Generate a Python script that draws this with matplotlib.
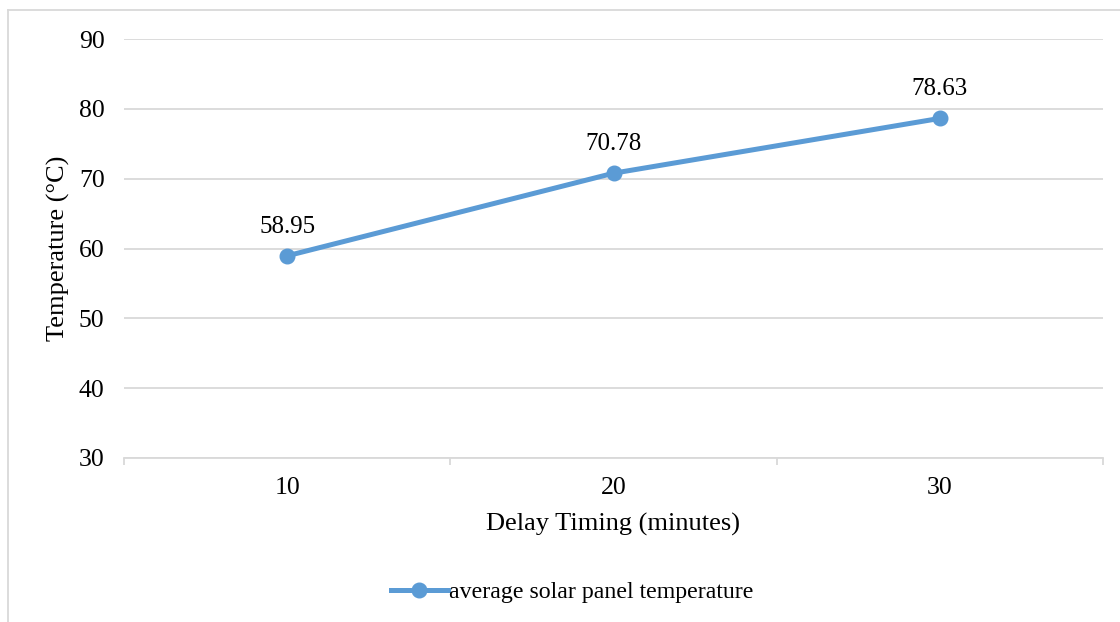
import numpy as np
import matplotlib.pyplot as plt
from matplotlib.lines import Line2D

plt.rcParams['font.family'] = ['Liberation Serif', 'DejaVu Serif']

# data
delays = ['10', '20', '30']
temps = [58.95, 70.78, 78.63]
y_ticks = [30, 40, 50, 60, 70, 80, 90]

blue = '#5B9BD5'
grey = '#D9D9D9'

fig = plt.figure(figsize=(11.2, 6.22), dpi=100)
ax = fig.add_axes([124/1120, 164/622, 979/1120, 419/622])

x = np.arange(len(delays))
ax.plot(x, temps, color=blue, lw=3.6, marker='o', ms=10.5,
        label='average solar panel temperature', zorder=3)
for xi, v in zip(x, temps):
    ax.annotate(f'{v:.2f}', (xi, v), xytext=(0, 21), textcoords='offset points',
                ha='center', va='center', fontsize=18)

ax.set_xlim(-0.5, len(delays) - 0.5)
ax.set_ylim(30, 90)
ax.set_yticks(y_ticks)
ax.set_xticks(x)
ax.set_xticklabels(delays)
ax.set_xticks(np.arange(len(delays) + 1) - 0.5, minor=True)

ax.grid(axis='y', color=grey, lw=1.3)
ax.set_axisbelow(True)
for s in ['top', 'right', 'left']:
    ax.spines[s].set_visible(False)
ax.spines['bottom'].set_color(grey)
ax.spines['bottom'].set_linewidth(1.3)
ax.tick_params(axis='y', length=0, labelsize=18.5, pad=14)
ax.tick_params(axis='x', which='major', length=0, labelsize=18.5, pad=14)
ax.tick_params(axis='x', which='minor', length=5, width=1.3, color=grey)

ax.set_xlabel('Delay Timing (minutes)', fontsize=19, labelpad=10)
ax.set_ylabel('Temperature (°C)', fontsize=19, labelpad=6)

# legend centred in the chart area, not the plot area
fig.legend(loc='center', bbox_to_anchor=(572/1120, 30/622), frameon=False,
           fontsize=17.2, handlelength=2.4, handletextpad=0.05)

# chart area border (top and left visible)
fig.add_artist(Line2D([8/1120, 8/1120], [0, 1 - 10/622], color=grey, lw=1.3,
                      transform=fig.transFigure))
fig.add_artist(Line2D([8/1120, 1], [1 - 10/622, 1 - 10/622], color=grey, lw=1.3,
                      transform=fig.transFigure))

fig.savefig('out.png', dpi=100)
